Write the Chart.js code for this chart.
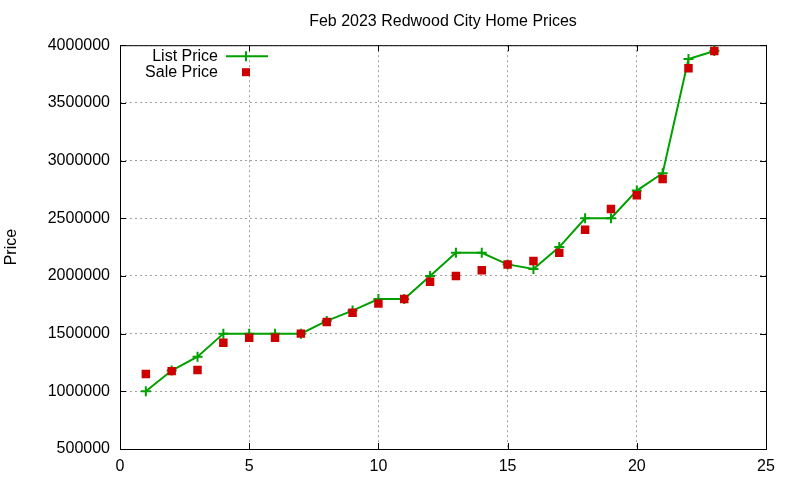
<!DOCTYPE html>
<html>
<head>
<meta charset="utf-8">
<script src="https://cdn.jsdelivr.net/npm/chart.js@4/dist/chart.umd.min.js"></script>
<style>
  html, body { margin: 0; padding: 0; background: #fff; }
  #wrap { width: 800px; height: 480px; }
</style>
</head>
<body>
<div id="wrap"><canvas id="prices-chart" width="800" height="480"></canvas></div>
<script>
const days = [1, 2, 3, 4, 5, 6, 7, 8, 9, 10, 11, 12, 13, 14, 15, 16, 17, 18, 19, 20, 21, 22, 23];
const listPrices = [1000000, 1180000, 1300000, 1500000, 1500000, 1500000, 1500000, 1610000, 1700000, 1800000,
  1800000, 2000000, 2200000, 2200000, 2100000, 2060000, 2250000, 2500000, 2500000, 2740000, 2890000, 3880000, 3950000];
const salePrices = [1150000, 1175000, 1185000, 1420000, 1465000, 1465000, 1500000, 1600000, 1680000, 1760000,
  1800000, 1950000, 2000000, 2050000, 2100000, 2130000, 2200000, 2400000, 2580000, 2700000, 2840000, 3800000, 3950000];
const xTicks = [0, 5, 10, 15, 20, 25];
const yTicks = [500000, 1000000, 1500000, 2000000, 2500000, 3000000, 3500000, 4000000];

const font = 'Liberation Sans, Arial, sans-serif';
const green = '#00a000';
const red = '#cc0000';

// gnuplot-ish frame: box border, inward ticks, centred title, legend inside
const framePlugin = {
  id: 'frame',
  afterLayout(chart) {
    const t = chart.titleBlock;
    if (t) {
      t.left = chart.chartArea.left;
      t.right = chart.chartArea.right;
      t.width = t.right - t.left;
    }
  },
  afterDatasetsDraw(chart) {
    const { ctx, chartArea: a, scales } = chart;
    ctx.save();
    ctx.strokeStyle = '#000';
    ctx.lineWidth = 1;
    ctx.strokeRect(a.left + 0.5, a.top + 0.5, a.right - a.left, a.bottom - a.top);
    ctx.beginPath();
    xTicks.forEach(v => {
      const x = Math.round(scales.x.getPixelForValue(v)) + 0.5;
      ctx.moveTo(x, a.bottom); ctx.lineTo(x, a.bottom - 6);
      ctx.moveTo(x, a.top); ctx.lineTo(x, a.top + 6);
    });
    yTicks.forEach(v => {
      const y = Math.round(scales.y.getPixelForValue(v)) + 0.5;
      ctx.moveTo(a.left, y); ctx.lineTo(a.left + 6, y);
      ctx.moveTo(a.right, y); ctx.lineTo(a.right - 6, y);
    });
    ctx.stroke();

    // legend
    const ds = chart.data.datasets;
    ctx.font = '16px ' + font;
    ctx.fillStyle = '#000';
    ctx.textAlign = 'right';
    ctx.textBaseline = 'middle';
    const textRight = a.left + 98;
    const sampleL = a.left + 106, sampleR = a.left + 148, sampleC = a.left + 126;
    const row1 = a.top + 11, row2 = a.top + 27;
    ctx.fillText(ds[1].label, textRight, row1);
    ctx.fillText(ds[0].label, textRight, row2);
    ctx.strokeStyle = green;
    ctx.lineWidth = 2;
    ctx.beginPath();
    ctx.moveTo(sampleL, row1); ctx.lineTo(sampleR, row1);
    ctx.moveTo(sampleC, row1 - 5); ctx.lineTo(sampleC, row1 + 5);
    ctx.stroke();
    ctx.fillStyle = red;
    ctx.fillRect(sampleC - 4, row2 - 4, 8, 8);
    ctx.restore();
  }
};

const ctx = document.getElementById('prices-chart').getContext('2d');
new Chart(ctx, {
  type: 'line',
  data: {
    datasets: [
      {
        label: 'Sale Price',
        data: days.map((d, i) => ({ x: d, y: salePrices[i] })),
        showLine: false,
        pointStyle: 'rect',
        pointRadius: 6,
        pointBackgroundColor: red,
        pointBorderColor: red,
        pointBorderWidth: 0,
        order: 0,
      },
      {
        label: 'List Price',
        data: days.map((d, i) => ({ x: d, y: listPrices[i] })),
        borderColor: green,
        borderWidth: 2,
        tension: 0,
        pointStyle: 'cross',
        pointRadius: 5,
        pointBorderColor: green,
        pointBorderWidth: 2,
        order: 1,
      },
    ],
  },
  options: {
    responsive: false,
    animation: false,
    layout: { padding: { left: 0, right: 34, top: 0, bottom: 0 } },
    plugins: {
      legend: { display: false },
      tooltip: { enabled: false },
      title: {
        display: true,
        text: 'Feb 2023 Redwood City Home Prices',
        color: '#000',
        font: { family: font, size: 16, weight: 'normal' },
        padding: { top: 12, bottom: 14 },
      },
    },
    scales: {
      x: {
        type: 'linear',
        min: 0,
        max: 25,
        afterFit: (s) => { s.height = 31; },
        afterBuildTicks: (s) => { s.ticks = xTicks.map(v => ({ value: v })); },
        ticks: { color: '#000', padding: 8, font: { family: font, size: 16 } },
        grid: { color: '#a0a0a0', drawTicks: false },
        border: { display: false, dash: [2, 3] },
      },
      y: {
        min: 500000,
        max: 4000000,
        afterFit: (s) => { s.width = 120; },
        afterBuildTicks: (s) => { s.ticks = yTicks.map(v => ({ value: v })); },
        ticks: { color: '#000', padding: 10, font: { family: font, size: 16 }, callback: (v) => String(v) },
        grid: { color: '#a0a0a0', drawTicks: false },
        border: { display: false, dash: [2, 3] },
        title: {
          display: true,
          text: 'Price',
          color: '#000',
          font: { family: font, size: 16 },
          padding: { top: 2, bottom: 0 },
        },
      },
    },
  },
  plugins: [framePlugin],
});
</script>
</body>
</html>
